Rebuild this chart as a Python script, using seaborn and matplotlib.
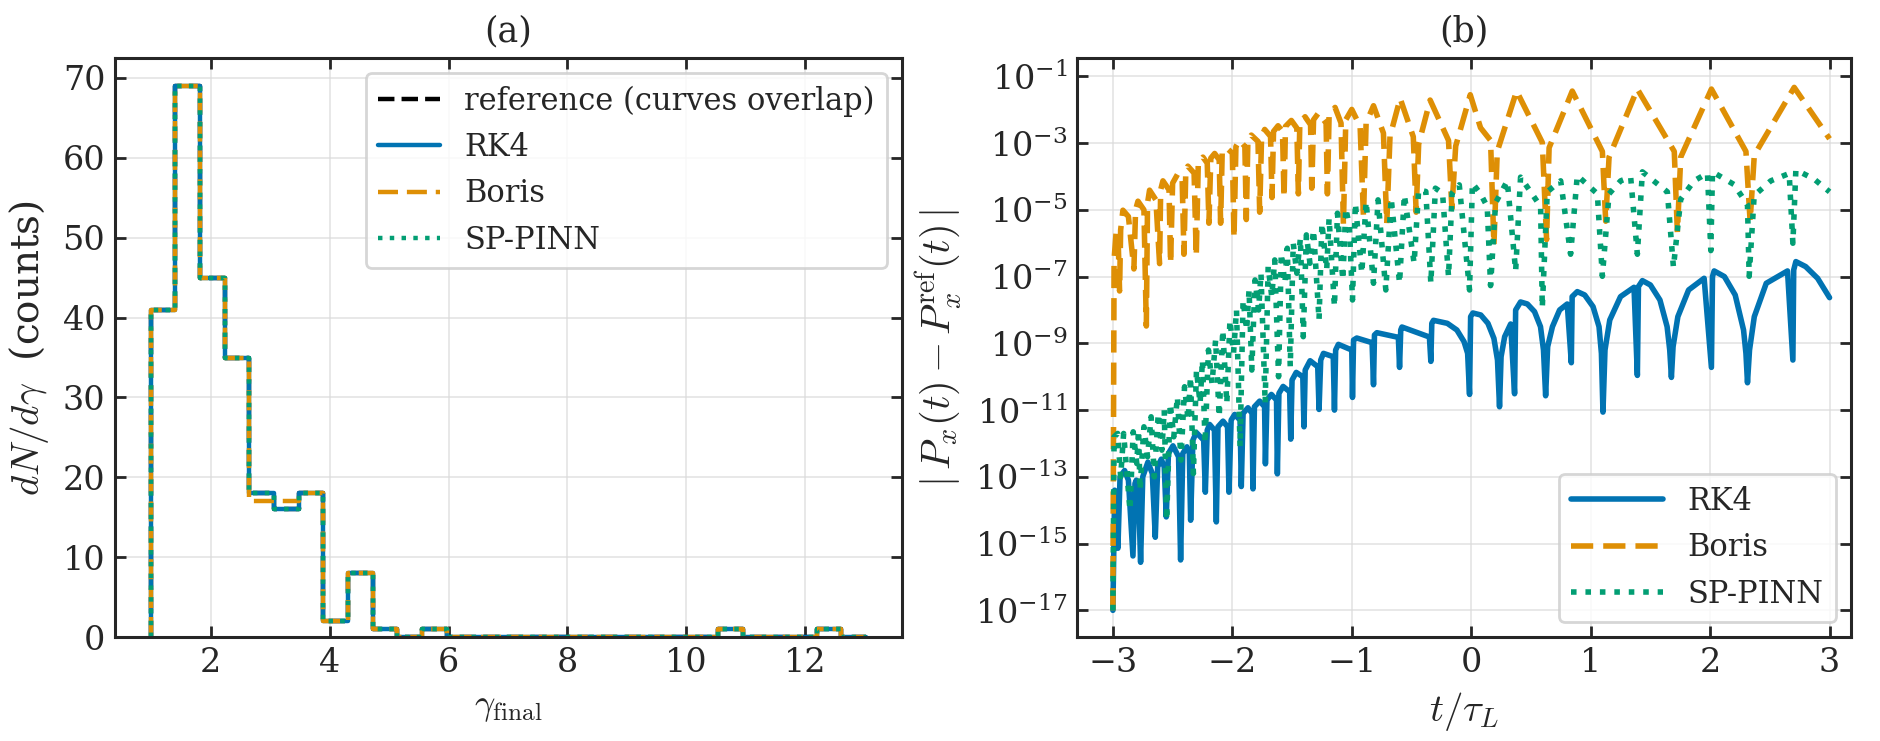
import numpy as np
import pandas as pd
import seaborn as sns
import matplotlib
matplotlib.use("Agg")
import matplotlib.pyplot as plt
from matplotlib.ticker import NullLocator

# (a) histogram of final gamma, 29 bins
bin_edges = [0.99 + 0.415 * k for k in range(30)]
counts_ref = [41, 69, 45, 35, 18, 16, 18, 2, 8, 1, 0, 1, 0, 0, 0, 0, 0, 0, 0, 0, 0, 0, 0, 1, 0, 0, 0, 1, 0]
counts_rk4 = [41, 69, 45, 35, 18, 16, 18, 2, 8, 1, 0, 1, 0, 0, 0, 0, 0, 0, 0, 0, 0, 0, 0, 1, 0, 0, 0, 1, 0]
counts_boris = [41, 69, 45, 35, 17, 17, 18, 2, 8, 1, 0, 1, 0, 0, 0, 0, 0, 0, 0, 0, 0, 0, 0, 1, 0, 0, 0, 1, 0]
counts_pinn = [41, 69, 45, 35, 18, 16, 18, 2, 8, 1, 0, 1, 0, 0, 0, 0, 0, 0, 0, 0, 0, 0, 0, 1, 0, 0, 0, 1, 0]

# (b) |Px - Px_ref|, as (t, log10 value) peaks and dips
rk4_t = [-3.0, -2.985, -2.958, -2.94, -2.902, -2.87, -2.832, -2.815, -2.804, -2.785, -2.768, -2.75,
         -2.707, -2.67, -2.645, -2.625, -2.595, -2.57, -2.553, -2.535, -2.497, -2.45, -2.433, -2.415,
         -2.38, -2.36, -2.349, -2.33, -2.302, -2.24, -2.226, -2.21, -2.19, -2.15, -2.134, -2.12,
         -2.078, -2.04, -2.028, -2.01, -1.98, -1.935, -1.925, -1.91, -1.869, -1.835, -1.827, -1.815,
         -1.771, -1.73, -1.723, -1.71, -1.673, -1.63, -1.623, -1.61, -1.575, -1.52, -1.511, -1.50,
         -1.465, -1.41, -1.40, -1.39, -1.349, -1.285, -1.274, -1.26, -1.237, -1.155, -1.145, -1.135,
         -1.112, -1.0, -0.994, -0.985, -0.958, -0.83, -0.818, -0.81, -0.79, -0.61, -0.6, -0.59,
         -0.58, -0.35, -0.338, -0.33,
         -0.316, -0.2, -0.12, -0.06, -0.03, -0.014, -0.005, 0.014, 0.08, 0.14,
         0.19, 0.22, 0.237, 0.25, 0.28, 0.33, 0.363, 0.372, 0.413, 0.47,
         0.53, 0.58, 0.605, 0.623, 0.64, 0.68, 0.74, 0.804, 0.838, 0.845,
         0.888, 0.95, 1.02, 1.07, 1.09, 1.103, 1.12, 1.16, 1.25, 1.363,
         1.391, 1.40, 1.433, 1.50, 1.58, 1.64, 1.662, 1.676, 1.69, 1.73,
         1.82, 1.95, 2.011, 2.02, 2.034, 2.12, 2.21, 2.28, 2.30, 2.313,
         2.33, 2.37, 2.47, 2.648, 2.693, 2.70, 2.718, 2.80, 2.90, 3.0]
rk4_exp = [-17.0, -13.4, -15.14, -13.0, -12.81, -13.1, -15.37, -13.2, -13.1, -13.5, -15.56, -13.0,
           -12.56, -12.9, -14.81, -12.7, -12.47, -12.7, -14.2, -12.3, -12.07, -12.4, -15.49, -12.3,
           -12.1, -12.3, -14.3, -11.9, -11.67, -11.9, -13.46, -11.6, -11.43, -11.6, -14.35, -11.5,
           -11.33, -11.5, -13.46, -11.3, -11.13, -11.3, -13.29, -11.1, -10.93, -11.1, -13.36, -10.9,
           -10.73, -10.9, -12.61, -10.7, -10.53, -10.7, -12.91, -10.5, -10.29, -10.45, -11.87, -10.1,
           -9.87, -10.0, -11.5, -9.8, -9.52, -9.7, -10.98, -9.5, -9.3, -9.4, -11.0, -9.2,
           -9.03, -9.2, -10.62, -8.9, -8.84, -8.98, -10.24, -8.75, -8.68, -8.82, -9.72, -8.6,
           -8.51, -8.81, -9.54, -8.4,
           -8.31, -8.4, -8.6, -8.95, -9.3, -10.53, -8.2, -8.09, -8.15, -8.4,
           -8.85, -9.5, -10.9, -9.4, -8.8, -8.42, -10.51, -8.0, -7.76, -7.82,
           -8.05, -8.5, -9.2, -10.57, -9.1, -8.5, -8.0, -7.82, -9.58, -7.6,
           -7.45, -7.55, -7.9, -8.5, -9.3, -11.06, -9.2, -8.3, -7.6, -7.32,
           -9.96, -7.3, -7.12, -7.25, -7.7, -8.5, -9.2, -10.02, -9.1, -8.2,
           -7.4, -7.05, -9.72, -7.0, -6.83, -7.0, -7.55, -8.6, -9.3, -10.18,
           -9.2, -8.2, -7.2, -6.83, -9.5, -6.8, -6.55, -6.7, -7.05, -7.63]

boris_t = [-3.0, -2.99, -2.972, -2.955, -2.944, -2.935, -2.916, -2.87, -2.824, -2.81, -2.79, -2.74,
           -2.72, -2.71, -2.693, -2.64, -2.609, -2.60, -2.581, -2.53, -2.517, -2.50, -2.455, -2.42,
           -2.405, -2.39, -2.372, -2.32, -2.302, -2.285, -2.246, -2.21, -2.196, -2.18, -2.148, -2.11,
           -2.098, -2.085, -2.05, -2.0, -1.986, -1.97, -1.939, -1.895, -1.883, -1.87, -1.841, -1.785,
           -1.771, -1.755, -1.729, -1.68, -1.668, -1.655, -1.617, -1.58, -1.567, -1.555, -1.506, -1.46,
           -1.447, -1.435, -1.391, -1.345, -1.335, -1.32, -1.279, -1.215, -1.204, -1.19, -1.14, -1.09,
           -1.07, -1.05, -1.0, -0.93, -0.902, -0.88, -0.818, -0.735, -0.707, -0.68, -0.595, -0.485,
           -0.461, -0.44, -0.344, -0.19, -0.162, -0.13, -0.008, 0.078, 0.162, 0.19, 0.218, 0.38,
           0.595, 0.631, 0.652, 0.846, 1.098, 1.126, 1.154, 1.391, 1.70, 1.726, 1.754, 2.011, 2.30,
           2.335, 2.37, 2.704, 3.0]
boris_exp = [-17.0, -6.5, -5.62, -6.0, -7.43, -5.6, -5.01, -5.2, -6.77, -5.0, -4.74, -5.0,
             -8.48, -4.8, -4.41, -4.7, -6.61, -4.4, -4.13, -4.4, -6.61, -4.2, -3.91, -4.1,
             -6.33, -3.9, -3.69, -3.9, -6.39, -3.6, -3.42, -3.6, -5.4, -3.45, -3.31, -3.5,
             -5.4, -3.3, -3.14, -3.3, -5.84, -3.1, -2.92, -3.1, -5.29, -2.95, -2.76, -2.95,
             -5.07, -2.8, -2.59, -2.8, -4.63, -2.65, -2.48, -2.65, -4.63, -2.5, -2.32, -2.55,
             -4.52, -2.4, -2.21, -2.45, -4.35, -2.3, -2.1, -2.4, -4.52, -2.2, -1.93, -2.4,
             -5.45, -2.3, -1.99, -2.5, -5.23, -2.4, -1.88, -2.7, -5.4, -2.8, -1.66, -2.81,
             -5.07, -3.03, -1.71, -2.92, -4.96, -3.09, -1.55, -2.54, -2.92, -6.06, -3.25, -1.44,
             -2.98, -5.89, -3.14, -1.44, -3.25, -5.34, -3.42, -1.38, -3.25, -5.67, -3.42, -1.38, -3.25,
             -5.34, -3.36, -1.33, -2.87]

pinn_t = [-3.0, -2.99, -2.96, -2.935, -2.91, -2.857, -2.83, -2.80, -2.785, -2.773, -2.74, -2.71,
          -2.68, -2.653, -2.62, -2.59, -2.57, -2.55, -2.52, -2.49, -2.46, -2.43, -2.40, -2.37,
          -2.35, -2.326, -2.30, -2.27, -2.25, -2.228, -2.20, -2.17, -2.14, -2.11, -2.08, -2.046,
          -2.02, -1.99, -1.965, -1.935, -1.91, -1.88, -1.86, -1.837, -1.81, -1.78, -1.76, -1.725,
          -1.70, -1.67, -1.645, -1.613, -1.59, -1.56, -1.54, -1.515, -1.49, -1.46, -1.43, -1.406,
          -1.38, -1.35, -1.32, -1.274, -1.25, -1.21, -1.19, -1.145, -1.12, -1.075, -1.05, -1.02,
          -0.994, -0.97, -0.916, -0.88, -0.818, -0.78, -0.715, -0.67, -0.60, -0.56, -0.478, -0.44,
          -0.38, -0.338, -0.30, -0.24, -0.19, -0.16, -0.10, -0.014, 0.01, 0.078, 0.134, 0.162,
          0.204, 0.302, 0.372, 0.413, 0.581, 0.595, 0.637, 0.749, 0.832, 0.888, 1.056, 1.098,
          1.154, 1.251, 1.335, 1.391, 1.433, 1.642, 1.693, 1.754, 1.866, 1.978, 2.006, 2.02,
          2.20, 2.313, 2.327, 2.369, 2.508, 2.662, 2.693, 2.718, 2.872, 3.0]
pinn_exp = [-17.0, -11.8, -11.7, -13.0, -11.7, -14.0, -11.65, -12.6, -11.6, -13.4, -11.5, -12.4,
            -11.2, -13.0, -11.1, -12.2, -11.0, -14.3, -10.8, -11.8, -10.6, -12.5, -10.3, -11.3,
            -10.0, -12.9, -9.8, -10.8, -9.5, -12.0, -9.2, -10.2, -8.9, -11.2, -8.6, -10.8,
            -8.3, -9.3, -8.0, -12.1, -7.7, -8.6, -7.4, -9.8, -7.1, -8.0, -6.9, -10.8,
            -6.7, -7.6, -6.5, -10.0, -6.3, -7.2, -6.15, -9.7, -6.0, -6.9, -5.85, -8.8,
            -5.75, -6.6, -5.6, -8.3, -5.4, -6.8, -5.25, -7.9, -5.1, -7.1, -4.95, -5.5,
            -7.7, -4.8, -6.9, -4.75, -7.2, -4.7, -7.4, -4.65, -7.2, -4.55, -6.6, -4.4,
            -4.45, -7.2, -4.35, -4.5, -7.0, -4.5, -4.25, -7.4, -4.2, -4.52, -4.9, -7.27,
            -4.79, -4.13, -6.83, -4.02, -4.9, -7.93, -4.46, -4.13, -6.33, -3.97, -4.52, -6.99,
            -4.52, -4.13, -4.02, -6.33, -3.86, -4.46, -6.72, -4.68, -4.13, -3.9, -6.22, -3.86,
            -4.24, -4.85, -6.99, -4.57, -4.13, -3.91, -6.0, -3.8, -4.08, -4.46]

sns.set_style("ticks")
plt.rcParams["font.family"] = ["DejaVu Serif"]
plt.rcParams["mathtext.fontset"] = "cm"
plt.rcParams["xtick.direction"] = "in"
plt.rcParams["ytick.direction"] = "in"
plt.rcParams["xtick.top"] = True
plt.rcParams["ytick.right"] = True

pal = sns.color_palette("colorblind")
blue, orange, green = pal[0], pal[1], pal[2]

fig = plt.figure(figsize=(9.4, 3.705), dpi=200)
ax1 = fig.add_axes([0.0612, 0.1403, 0.4186, 0.7814])
ax2 = fig.add_axes([0.5729, 0.1403, 0.4117, 0.7814])

# ---- (a) ----
centers = [(bin_edges[i] + bin_edges[i + 1]) / 2 for i in range(len(bin_edges) - 1)]
hist_sets = [
    (counts_ref, "reference (curves overlap)", "black", "--"),
    (counts_rk4, "RK4", blue, "-"),
    (counts_boris, "Boris", orange, (0, (4.5, 2.0))),
    (counts_pinn, "SP-PINN", green, ":"),
]
for cnt, lab, col, ls in hist_sets:
    sns.histplot(x=centers, weights=cnt, bins=bin_edges, element="step", fill=False,
                 color=col, linestyle=ls, linewidth=1.6, label=lab, ax=ax1)
    # close the outline down to zero at the first edge
    line = ax1.lines[-1]
    xs, ys = line.get_data()
    line.set_data(np.r_[xs[0], xs], np.r_[0, ys])

ax1.set_xlim(0.39, 13.63)
ax1.set_ylim(0, 72.5)
ax1.set_title("(a)", fontsize=12.5)
ax1.set_xlabel(r"$\gamma_{\mathrm{final}}$", fontsize=13)
ax1.set_ylabel(r"$dN/d\gamma$  (counts)", fontsize=14)
ax1.grid(True, color="0.85", linewidth=0.6, alpha=0.7)
ax1.legend(loc="upper right", fontsize=11)

# ---- (b) ----
curves = pd.concat([
    pd.DataFrame({"t": rk4_t, "err": np.power(10.0, rk4_exp), "method": "RK4"}),
    pd.DataFrame({"t": boris_t, "err": np.power(10.0, boris_exp), "method": "Boris"}),
    pd.DataFrame({"t": pinn_t, "err": np.power(10.0, pinn_exp), "method": "SP-PINN"}),
])
styles = {"RK4": (blue, "-"), "Boris": (orange, (0, (4.0, 1.8))), "SP-PINN": (green, (0, (1, 1.6)))}
for name in ["RK4", "Boris", "SP-PINN"]:
    col, ls = styles[name]
    d = curves[curves["method"] == name]
    sns.lineplot(data=d, x="t", y="err", color=col, linestyle=ls, linewidth=2.0,
                 estimator=None, sort=False, label=name, ax=ax2)

ax2.set_yscale("log")
ax2.set_xlim(-3.3, 3.18)
ax2.set_ylim(10 ** -17.8, 10 ** -0.45)
ax2.set_yticks([10.0 ** e for e in range(-17, 0, 2)])
ax2.yaxis.set_minor_locator(NullLocator())
ax2.set_title("(b)", fontsize=12.5)
ax2.set_xlabel(r"$t/\tau_L$", fontsize=14)
ax2.set_ylabel(r"$|\,P_x(t) - P_x^{\mathrm{ref}}(t)\,|$", fontsize=14.5)
ax2.grid(True, color="0.85", linewidth=0.6, alpha=0.7)
ax2.legend(loc="lower right", fontsize=11, handlelength=3)

for ax in (ax1, ax2):
    ax.tick_params(labelsize=12, length=4, width=1)
    for sp in ax.spines.values():
        sp.set_linewidth(1.1)

fig.savefig("out.png", dpi=200)
